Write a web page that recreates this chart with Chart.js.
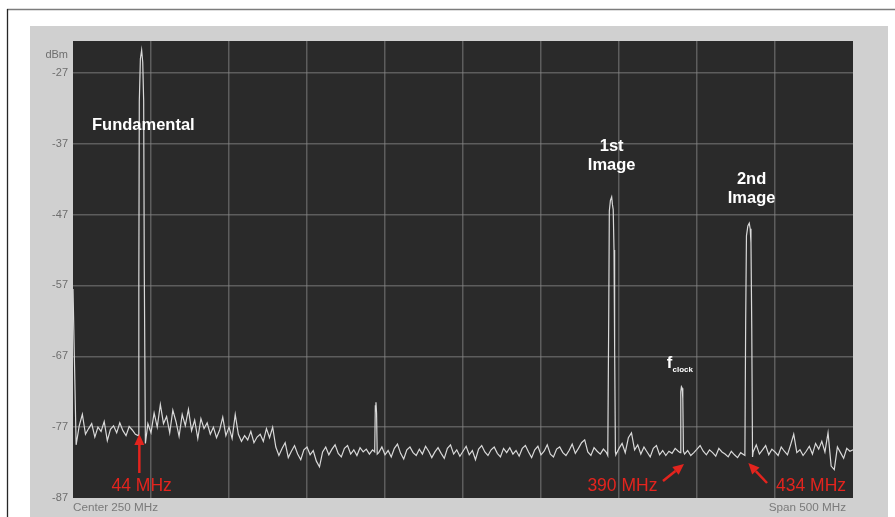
<!DOCTYPE html>
<html>
<head>
<meta charset="utf-8">
<script src="https://cdn.jsdelivr.net/npm/chart.js@4/dist/chart.umd.min.js"></script>
<style>
  html, body { margin: 0; padding: 0; background: #fff; overflow: hidden; }
  canvas { display: block; }
</style>
</head>
<body>
<canvas id="spectrum" width="895" height="517"></canvas>
<script>
// Sweep: 0 to 500 MHz (center 250 MHz, span 500 MHz), level in dBm
const sweepStartMHz = 0;
const sweepStepMHz = 2;

// Noise floor samples, one every 2 MHz; null where a peak is traced in detail
const noiseDbm = [
  -57.5, -79.5, -76.8, -75.2, -78.0, -77.2, -76.5, -78.4, -77.0, -77.6,
  -76.2, -78.9, -77.3, -76.8, -77.8, -76.4, -77.5, -78.2, -76.9, -77.4,
  -78.0,  null,  null,  null, -76.5, -77.8, -75.0, -77.0, -73.8, -76.5,
  -75.5, -77.8, -74.6, -76.2, -78.3, -75.2, -76.8, -74.5, -77.5, -76.0,
  -78.6, -75.8, -77.2, -76.4, -78.0, -77.0, -78.5, -77.4, -75.6, -78.2,
  -77.0, -78.6, -75.2, -78.0, -79.0, -78.2, -78.8, -77.6, -79.2, -78.4,
  -78.0, -79.0, -77.2, -78.5, -77.0, -79.8, -81.0, -80.0, -79.2, -81.3,
  -80.4, -79.6, -80.8, -81.6, -80.2, -79.8, -80.9, -80.3, -81.8, -82.6,
  -80.5, -79.8, -80.9, -80.1, -79.5, -80.7, -81.2, -80.0, -79.6, -80.8,
  -80.2, -81.0, -79.9, -80.5, -80.1, -80.8, -80.2,  null, -80.6, -79.8,
  -80.9, -80.3, -81.2, -80.0, -79.4, -80.7, -81.5, -80.2, -79.8, -80.6,
  -81.0, -80.1, -80.8, -79.7, -80.4, -81.3, -80.5, -79.9, -80.7, -81.4,
  -80.0, -79.5, -80.8, -80.2, -81.1, -80.4, -79.7, -80.9, -80.3, -81.6,
  -80.1, -79.6, -80.5, -81.0, -80.2, -79.8, -80.7, -81.2, -80.0, -80.6,
  -79.9, -80.8, -80.3, -81.1, -80.0, -79.6, -80.5, -81.3, -80.2, -79.7,
  -80.9, -80.4, -79.5, -80.8, -81.2, -80.1, -79.8, -80.6, -81.0, -80.3,
  -79.4, -80.7, -80.0, -79.2, -78.8, -80.5, -81.0, -79.9, -80.4, -80.8,
  -80.1, -80.6,  null,  null, -80.9, -80.0, -79.3, -80.6, -78.5, -77.8,
  -80.2, -79.5, -80.8, -79.8, -80.5, -81.2, -80.0, -79.6, -80.9, -80.3,
  -81.0, -80.4, -80.7, -80.0, -80.4,  null, -80.8, -80.3, -81.0, -80.6,
  -80.1, -79.6, -80.4, -80.9, -80.2, -80.6, -81.1, -80.0, -80.5, -80.8,
  -81.2, -80.4, -80.9, -81.3, -80.6, -80.9,  null,  null, -80.5, -79.5,
  -80.8, -80.2, -79.6, -80.9, -80.1, -80.5, -81.0, -79.8, -80.4, -80.9,
  -79.5, -78.0, -80.6, -80.2, -81.0, -80.4, -79.7, -80.8, -79.3, -80.1,
  -79.0, -80.5, -77.8, -82.5, -83.0, -79.8, -80.6, -81.4, -80.0, -80.4,
  -80.2
];

// Fundamental at 44 MHz
const fundamentalMHz = [41.8, 42.2, 42.5, 43.2, 44.0, 44.7, 45.3, 45.7, 46.4];
const fundamentalDbm = [-78.2, -56.0, -31.0, -25.0, -23.8, -25.5, -31.0, -55.0, -79.3];

// Small spur near 194 MHz
const spurMHz = [193.4, 193.8, 194.2, 194.6, 195.0];
const spurDbm = [-80.5, -74.0, -73.5, -75.0, -80.8];

// 1st image (fclock - fundamental)
const image1MHz = [342.8, 343.4, 343.8, 344.5, 345.3, 345.8, 346.3, 346.8, 347.2, 347.7];
const image1Dbm = [-81.0, -62.0, -46.5, -45.0, -44.5, -45.6, -46.3, -52.0, -66.0, -80.5];

// Clock feedthrough at 390 MHz
const clockMHz = [389.2, 389.6, 390.0, 390.5, 390.9, 391.3];
const clockDbm = [-80.6, -72.0, -71.3, -71.5, -73.0, -80.4];

// 2nd image (fclock + fundamental)
const image2MHz = [430.7, 431.2, 431.7, 432.6, 433.5, 434.1, 434.6, 435.1, 435.6];
const image2Dbm = [-81.0, -62.0, -50.0, -48.6, -48.2, -49.0, -51.0, -63.0, -81.2];

// Axis ticks
const yTickValues = [-27, -37, -47, -57, -67, -77, -87];
const yTickLabels = ['-27', '-37', '-47', '-57', '-67', '-77', '-87'];
const yUnitLabel = 'dBm';
const centerLabel = 'Center 250 MHz';
const spanLabel = 'Span 500 MHz';

// Marker frequencies with their red captions
const markerMHz = [44, 390, 434];
const markerLabels = ['44 MHz', '390 MHz', '434 MHz'];

// Build one sorted trace from the floor samples and the detailed peaks
const tracePoints = [];
noiseDbm.forEach((v, i) => {
  if (v !== null) tracePoints.push({ x: sweepStartMHz + i * sweepStepMHz, y: v });
});
[[fundamentalMHz, fundamentalDbm], [spurMHz, spurDbm], [image1MHz, image1Dbm],
 [clockMHz, clockDbm], [image2MHz, image2Dbm]].forEach(([fs, ls]) => {
  fs.forEach((f, i) => tracePoints.push({ x: f, y: ls[i] }));
});
tracePoints.sort((a, b) => a.x - b.x);

const FONT = '"Liberation Sans", Arial, sans-serif';
const gridColor = 'rgba(135,135,135,0.55)';

// Page frame, instrument panel and dark screen behind the trace
const backdrop = {
  id: 'backdrop',
  beforeDraw(chart) {
    const { ctx, chartArea: a, width, height } = chart;
    ctx.save();
    ctx.fillStyle = '#ffffff';
    ctx.fillRect(0, 0, width, height);
    ctx.strokeStyle = '#7c7c7c';
    ctx.lineWidth = 1.5;
    ctx.beginPath(); ctx.moveTo(7, 9.5); ctx.lineTo(width, 9.5); ctx.stroke();
    ctx.strokeStyle = '#262626';
    ctx.lineWidth = 1.3;
    ctx.beginPath(); ctx.moveTo(7.5, 9); ctx.lineTo(7.5, height); ctx.stroke();
    ctx.fillStyle = '#d0d0d0';
    ctx.fillRect(a.left - 43, a.top - 15, a.width + 78, height - (a.top - 15));
    ctx.fillStyle = '#2a2a2a';
    ctx.fillRect(a.left, a.top, a.width, a.height);
    ctx.restore();
  }
};

function arrow(ctx, x0, y0, x1, y1) {
  const ang = Math.atan2(y1 - y0, x1 - x0);
  const head = 11, half = 5;
  const bx = x1 - head * Math.cos(ang), by = y1 - head * Math.sin(ang);
  ctx.beginPath(); ctx.moveTo(x0, y0); ctx.lineTo(bx, by); ctx.stroke();
  ctx.beginPath();
  ctx.moveTo(x1, y1);
  ctx.lineTo(bx + half * Math.sin(ang), by - half * Math.cos(ang));
  ctx.lineTo(bx - half * Math.sin(ang), by + half * Math.cos(ang));
  ctx.closePath(); ctx.fill();
}

// Captions for the peaks, the red frequency markers and the footer texts
const notes = {
  id: 'notes',
  afterDatasetsDraw(chart) {
    const { ctx, scales: { x, y }, chartArea: a } = chart;
    ctx.save();
    ctx.textBaseline = 'middle';

    ctx.fillStyle = '#ffffff';
    ctx.font = 'bold 16.5px ' + FONT;
    ctx.textAlign = 'left';
    ctx.fillText('Fundamental', x.getPixelForValue(12.2), y.getPixelForValue(-34.4));
    ctx.textAlign = 'center';
    ctx.fillText('1st', x.getPixelForValue(345.3), y.getPixelForValue(-37.45));
    ctx.fillText('Image', x.getPixelForValue(345.3), y.getPixelForValue(-40.0));
    ctx.fillText('2nd', x.getPixelForValue(435.0), y.getPixelForValue(-42.0));
    ctx.fillText('Image', x.getPixelForValue(435.0), y.getPixelForValue(-44.7));
    ctx.textAlign = 'left';
    ctx.fillText('f', x.getPixelForValue(380.6), y.getPixelForValue(-68.0));
    ctx.font = 'bold 8px ' + FONT;
    ctx.fillText('clock', x.getPixelForValue(384.3), y.getPixelForValue(-68.9));

    // red markers: [label dx, arrow tail dx, tail dy, tip dx, tip dy] in px
    const layout = [
      [0, -2.3, 473, -2.3, 434],
      [-59, -18.4, 481, 2.6, 464],
      [61, 17.0, 483, -1.7, 463]
    ];
    ctx.fillStyle = '#e3241e';
    ctx.strokeStyle = '#e3241e';
    ctx.lineWidth = 2.5;
    ctx.font = '17.5px ' + FONT;
    ctx.textAlign = 'center';
    markerMHz.forEach((f, i) => {
      const px = x.getPixelForValue(f);
      const [ldx, tdx, ty, hdx, hy] = layout[i];
      ctx.fillText(markerLabels[i], px + ldx, a.bottom - 11.5);
      arrow(ctx, px + tdx, ty, px + hdx, hy);
    });

    ctx.fillStyle = '#6e6e6e';
    ctx.font = '11px ' + FONT;
    ctx.textAlign = 'right';
    ctx.fillText(yUnitLabel, a.left - 5, a.top + 14);
    ctx.fillStyle = '#7a7a7a';
    ctx.font = '11.7px ' + FONT;
    ctx.textAlign = 'left';
    ctx.fillText(centerLabel, a.left, a.bottom + 10);
    ctx.textAlign = 'right';
    ctx.fillText(spanLabel, a.right - 7, a.bottom + 10);
    ctx.restore();
  }
};

new Chart(document.getElementById('spectrum'), {
  type: 'line',
  data: {
    datasets: [{
      data: tracePoints,
      borderColor: '#d9d9d9',
      borderWidth: 1.2,
      pointRadius: 0,
      tension: 0,
      fill: false
    }]
  },
  options: {
    responsive: false,
    animation: false,
    devicePixelRatio: 1,
    layout: { padding: { left: 0, top: 41, right: 42, bottom: 19 } },
    plugins: { legend: { display: false }, tooltip: { enabled: false } },
    scales: {
      x: {
        type: 'linear', min: 0, max: 500,
        border: { display: false },
        grid: {
          drawTicks: false, lineWidth: 1.5,
          color: c => (c.tick && (c.tick.value === 0 || c.tick.value === 500)) ? 'rgba(0,0,0,0)' : gridColor
        },
        ticks: { display: false, stepSize: 50 },
        afterFit(s) { s.height = 0; }
      },
      y: {
        type: 'linear', min: -87, max: -22.5,
        border: { display: false },
        grid: {
          drawTicks: false, lineWidth: 1.5,
          color: c => (c.tick && c.tick.value === -87) ? 'rgba(0,0,0,0)' : gridColor
        },
        ticks: {
          padding: 5, color: '#6e6e6e',
          font: { family: FONT, size: 11 },
          callback: (v, i) => yTickLabels[i]
        },
        afterBuildTicks(s) { s.ticks = yTickValues.map(v => ({ value: v })); },
        afterFit(s) { s.width = 73; }
      }
    }
  },
  plugins: [backdrop, notes]
});
</script>
</body>
</html>
